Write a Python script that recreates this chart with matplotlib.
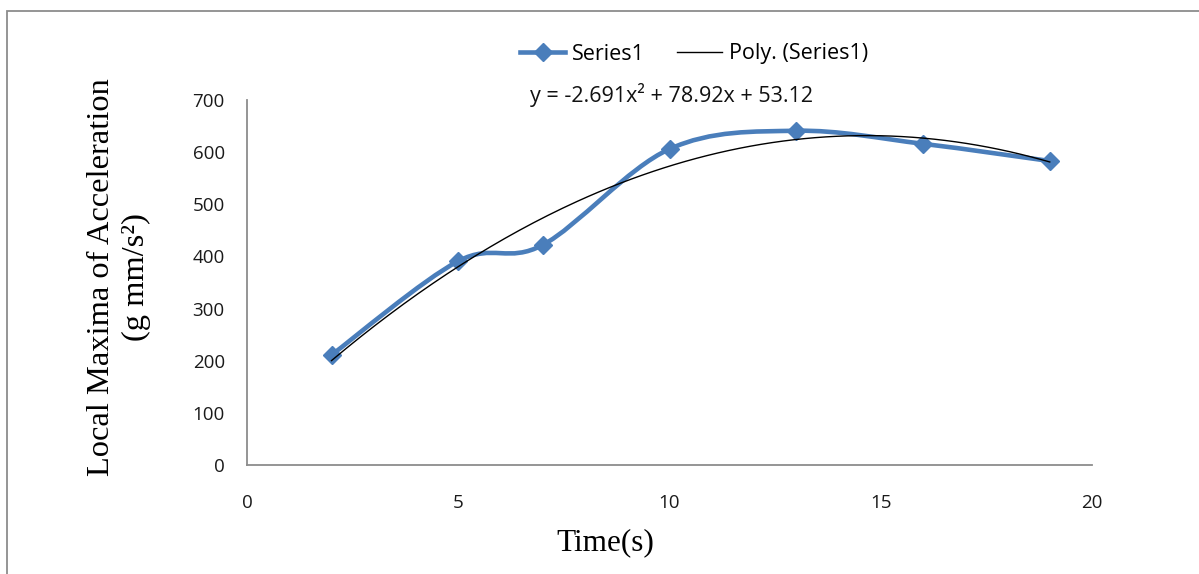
import numpy as np
import matplotlib.pyplot as plt
from matplotlib.path import Path
from matplotlib.patches import PathPatch, Rectangle
from matplotlib.lines import Line2D

# data
time_s = [2, 5, 7, 10, 13, 16, 19]
accel_max = [211, 391, 422, 606, 641, 616, 583]
trend_coef = [-2.691, 78.92, 53.12]   # from the printed trendline equation
x_ticks = [0, 5, 10, 15, 20]
y_ticks = [0, 100, 200, 300, 400, 500, 600, 700]

blue = '#4A7EBB'
ui_font = 'Open Sans'


def smooth_path(xs, ys):
    # Excel style smoothed line: cubic Bezier through every point
    p = np.column_stack([xs, ys]).astype(float)
    ext = np.vstack([p[0], p, p[-1]])
    verts = [p[0]]
    codes = [Path.MOVETO]
    for i in range(len(p) - 1):
        a, b, c, d = ext[i], ext[i + 1], ext[i + 2], ext[i + 3]
        verts += [b + (c - a) / 6.0, c - (d - b) / 6.0, c]
        codes += [Path.CURVE4] * 3
    return Path(verts, codes)


fig = plt.figure(figsize=(11.99, 5.74), dpi=100)
ax = fig.add_axes([247 / 1199, 1 - 465 / 574, 845 / 1199, 365 / 574])

# Smoothed series line plus diamond markers
ax.add_patch(PathPatch(smooth_path(time_s, accel_max), facecolor='none',
                       edgecolor=blue, lw=3.3, capstyle='round', zorder=3))
ax.plot(time_s, accel_max, linestyle='none', marker='D', ms=9.5,
        color=blue, zorder=4)

# Polynomial trendline
xt = np.linspace(time_s[0], time_s[-1], 200)
ax.plot(xt, np.polyval(trend_coef, xt), color='black', lw=1.0, zorder=5)

ax.set_xlim(0, 20)
ax.set_ylim(0, 700)
ax.set_xticks(x_ticks)
ax.set_yticks(y_ticks)
ax.tick_params(axis='both', length=0, labelsize=13.5, colors='#1a1a1a')
ax.tick_params(axis='y', pad=16)
ax.tick_params(axis='x', pad=21)
for lab in ax.get_xticklabels() + ax.get_yticklabels():
    lab.set_family(ui_font)

for side in ['top', 'right']:
    ax.spines[side].set_visible(False)
for side in ['left', 'bottom']:
    ax.spines[side].set_color('#8c8c8c')
    ax.spines[side].set_linewidth(1.3)

ax.set_ylabel('Local Maxima of Acceleration\n(g mm/s²)', family='Liberation Serif',
              fontsize=23.4, linespacing=1.25)
ax.yaxis.set_label_coords(-0.114, 0.514)
ax.set_xlabel('Time(s)', family='Liberation Serif', fontsize=22.5)
ax.xaxis.set_label_coords(0.424, -0.174)

# equation of the trendline
fig.text(672 / 1199, 1 - 95 / 574, 'y = -2.691x² + 78.92x + 53.12', family=ui_font,
         fontsize=15.5, ha='center', va='center', color='#111111')

handles = [Line2D([], [], color=blue, lw=3.3, marker='D', ms=9.5),
           Line2D([], [], color='black', lw=1.0)]
fig.legend(handles, ['Series1', 'Poly. (Series1)'], loc='center',
           bbox_to_anchor=(694 / 1199, 1 - 54 / 574), ncol=2, frameon=False,
           prop={'family': ui_font, 'size': 15.5}, handlelength=2.1,
           handletextpad=0.3, columnspacing=1.5)

# outer chart border, running past the cropped edges
fig.patches.append(Rectangle((7 / 1199, -0.1), 1.2, 1 - 11 / 574 + 0.1,
                             transform=fig.transFigure, fill=False,
                             edgecolor='#8c8c8c', lw=1.3))

plt.savefig('out.png', dpi=100)
plt.close()
